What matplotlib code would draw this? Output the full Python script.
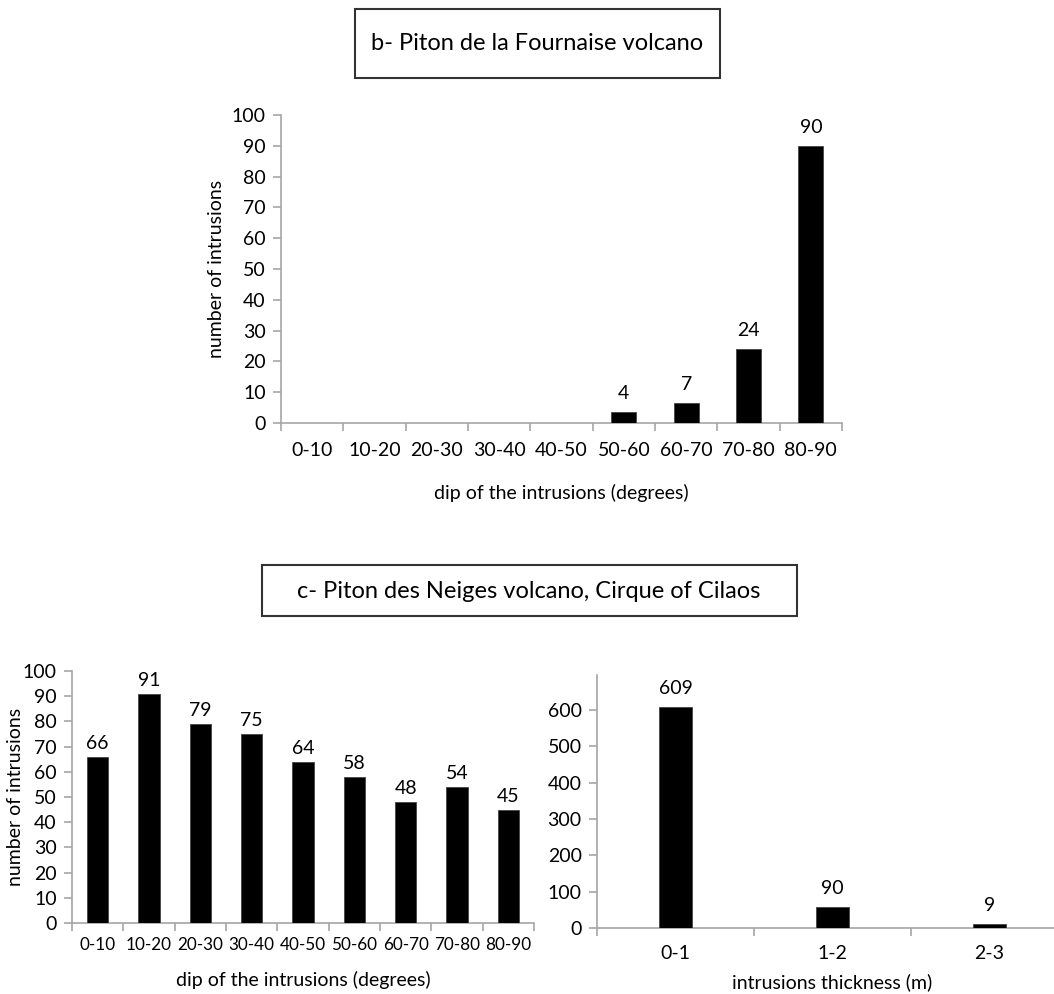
import matplotlib
matplotlib.use("Agg")
import matplotlib.pyplot as plt
import numpy as np

plt.rcParams['font.family'] = ['Lato', 'DejaVu Sans']

# ---- data ----
dip_categories = ["0-10", "10-20", "20-30", "30-40", "40-50", "50-60", "60-70", "70-80", "80-90"]
fournaise_counts = [0, 0, 0, 0, 0, 3.7, 6.6, 24, 90]
fournaise_labels = ["", "", "", "", "", "4", "7", "24", "90"]

neiges_counts = [66, 91, 79, 75, 64, 58, 48, 54, 45]
neiges_labels = ["66", "91", "79", "75", "64", "58", "48", "54", "45"]

thick_categories = ["0-1", "1-2", "2-3"]
thick_counts = [609, 58, 12]
thick_labels = ["609", "90", "9"]

title_b = "b- Piton de la Fournaise volcano"
title_c = "c- Piton des Neiges volcano, Cirque of Cilaos"

W, H = 1054, 994
fig = plt.figure(figsize=(W / 100, H / 100), dpi=100)

AX_COL = "#a6a6a6"
TICK_FS = 14
LAB_FS = 14
VAL_FS = 14


def fr(x0, y0, x1, y1):
    return [x0 / W, 1 - y1 / H, (x1 - x0) / W, (y1 - y0) / H]


def style(ax, cats, ylim, yticks, xpad, xfs=TICK_FS):
    n = len(cats)
    ax.set_xlim(-0.5, n - 0.5)
    ax.set_ylim(*ylim)
    for s in ["top", "right"]:
        ax.spines[s].set_visible(False)
    for s in ["left", "bottom"]:
        ax.spines[s].set_color(AX_COL)
        ax.spines[s].set_linewidth(1.2)
    ax.set_yticks(yticks)
    ax.set_xticks(np.arange(n))
    ax.set_xticklabels(cats)
    ax.set_xticks(np.arange(n + 1) - 0.5, minor=True)
    ax.tick_params(axis="x", which="major", length=0, pad=xpad, labelsize=xfs)
    ax.tick_params(axis="x", which="minor", length=6, color=AX_COL, width=1.2, direction="out")
    ax.tick_params(axis="y", length=6, color=AX_COL, width=1.2, labelsize=TICK_FS, pad=5)
    ax.set_facecolor("none")


def bars(ax, vals, labels, width, off):
    x = np.arange(len(vals))
    ax.bar(x, vals, width=width, color="black", edgecolor="#444444", linewidth=0.6, zorder=3)
    for xi, v, lab in zip(x, vals, labels):
        if lab:
            ax.annotate(lab, (xi, v), xytext=(0, off), textcoords="offset pixels",
                        ha="center", va="bottom", fontsize=VAL_FS)


def xlab(ax, text, y):
    ax.set_xlabel(text, fontsize=LAB_FS)
    ax.xaxis.set_label_coords(0.5, y)
    ax.xaxis.label.set_va("center")


def ylab(ax, text, x):
    ax.set_ylabel(text, fontsize=LAB_FS)
    ax.yaxis.set_label_coords(x, 0.5)
    ax.yaxis.label.set_va("center")


# top chart
ax1 = fig.add_axes(fr(281, 115, 842, 423))
bars(ax1, fournaise_counts, fournaise_labels, 0.40, 10)
style(ax1, dip_categories, (0, 100), np.arange(0, 101, 10), 14)
ylab(ax1, "number of intrusions", -64 / 561)
xlab(ax1, "dip of the intrusions (degrees)", -70 / 308)

# bottom left
ax2 = fig.add_axes(fr(72, 671, 534, 923))
bars(ax2, neiges_counts, neiges_labels, 0.41, 5)
style(ax2, dip_categories, (0, 100), np.arange(0, 101, 10), 10, xfs=12.3)
ylab(ax2, "number of intrusions", -56 / 462)
xlab(ax2, "dip of the intrusions (degrees)", -57 / 252)

# bottom right
ax3 = fig.add_axes(fr(597, 675, 1068, 928))
bars(ax3, thick_counts, thick_labels, 0.21, 10)
style(ax3, thick_categories, (0, 696), np.arange(0, 601, 100), 12)
xlab(ax3, "intrusions thickness (m)", -54 / 253)

# title boxes
fig.patches.append(plt.Rectangle((355 / W, 1 - 78 / H), (720 - 355) / W, (78 - 9) / H,
                                 transform=fig.transFigure, fill=False, edgecolor="#333333", linewidth=1.5))
fig.text(537 / W, 1 - 44 / H, title_b, ha="center", va="center", fontsize=17)
fig.patches.append(plt.Rectangle((262 / W, 1 - 616 / H), (797 - 262) / W, (616 - 565) / H,
                                 transform=fig.transFigure, fill=False, edgecolor="#333333", linewidth=1.5))
fig.text(529 / W, 1 - 591 / H, title_c, ha="center", va="center", fontsize=17)

fig.savefig("out.png", dpi=100)
